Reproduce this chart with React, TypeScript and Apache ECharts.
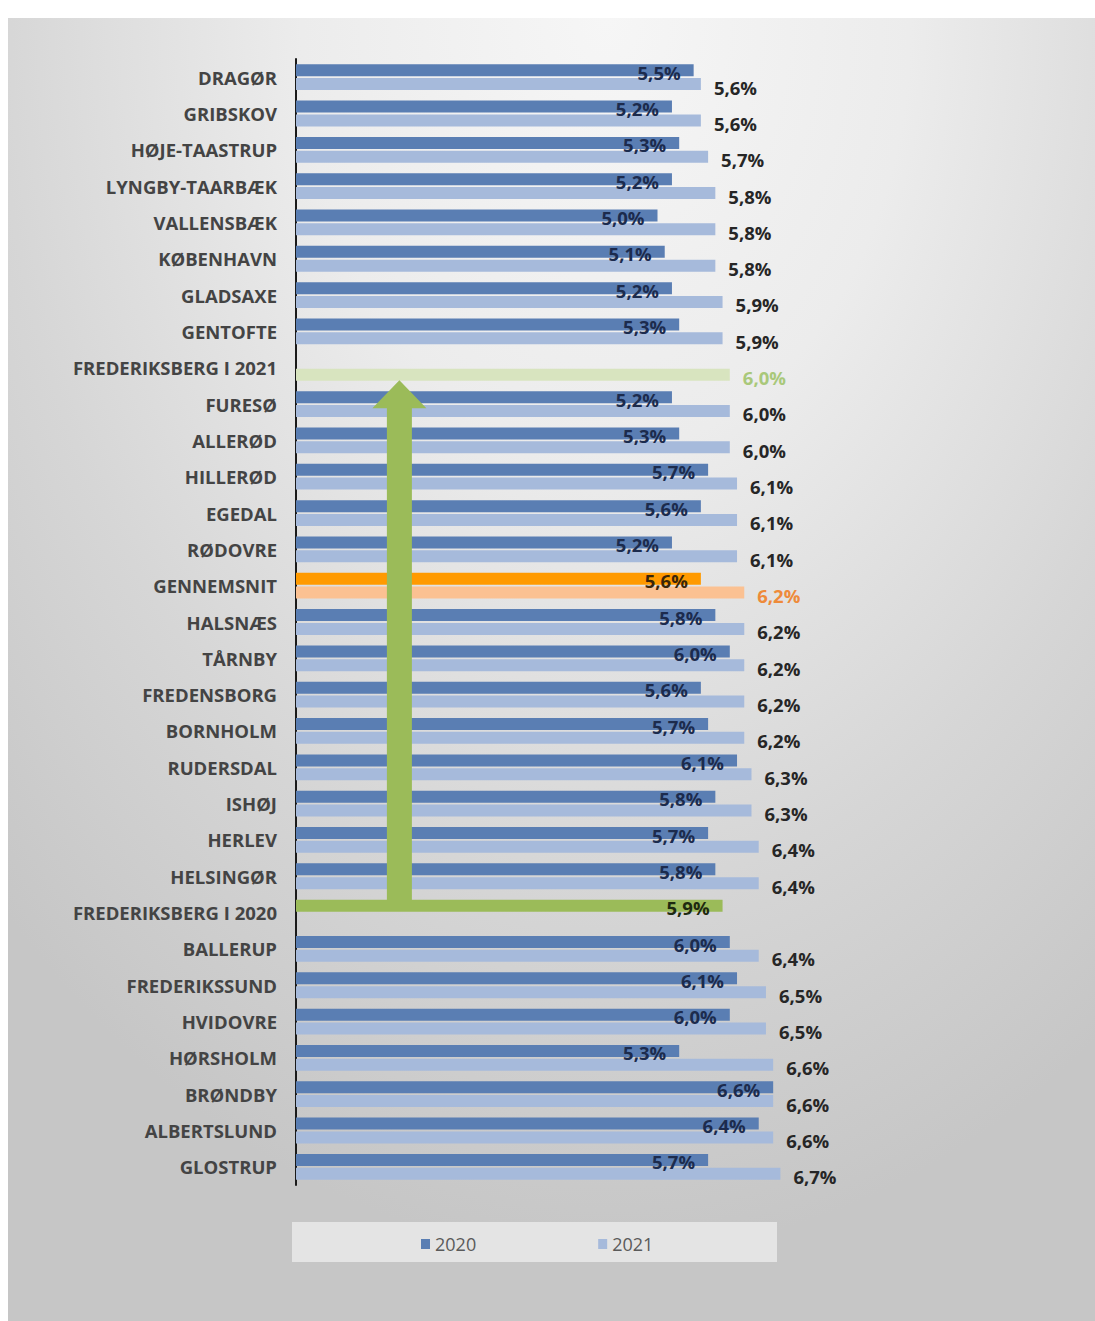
import React, { useEffect, useRef } from "react";
import * as echarts from "echarts";

const categories = [
  "DRAGØR", "GRIBSKOV", "HØJE-TAASTRUP", "LYNGBY-TAARBÆK", "VALLENSBÆK", "KØBENHAVN",
  "GLADSAXE", "GENTOFTE", "FREDERIKSBERG I 2021", "FURESØ", "ALLERØD", "HILLERØD",
  "EGEDAL", "RØDOVRE", "GENNEMSNIT", "HALSNÆS", "TÅRNBY", "FREDENSBORG", "BORNHOLM",
  "RUDERSDAL", "ISHØJ", "HERLEV", "HELSINGØR", "FREDERIKSBERG I 2020", "BALLERUP",
  "FREDERIKSSUND", "HVIDOVRE", "HØRSHOLM", "BRØNDBY", "ALBERTSLUND", "GLOSTRUP",
];

const values2020: (number | null)[] = [
  5.5, 5.2, 5.3, 5.2, 5.0, 5.1, 5.2, 5.3, null, 5.2, 5.3, 5.7, 5.6, 5.2, 5.6, 5.8,
  6.0, 5.6, 5.7, 6.1, 5.8, 5.7, 5.8, 5.9, 6.0, 6.1, 6.0, 5.3, 6.6, 6.4, 5.7,
];

const values2021: (number | null)[] = [
  5.6, 5.6, 5.7, 5.8, 5.8, 5.8, 5.9, 5.9, 6.0, 6.0, 6.0, 6.1, 6.1, 6.1, 6.2, 6.2,
  6.2, 6.2, 6.2, 6.3, 6.3, 6.4, 6.4, null, 6.4, 6.5, 6.5, 6.6, 6.6, 6.6, 6.7,
];

const seriesNames = ["2020", "2021"];
const arrowXValue = 1.43;

const FONT = "'Open Sans', 'Noto Sans', sans-serif";
const C2020 = "#5a7eb3";
const C2021 = "#a6badb";
const GREEN = "#9bbb59";
const GREEN_LIGHT = "#d8e4bf";
const ORANGE = "#ff9a00";
const ORANGE_LIGHT = "#fbc192";

const fmt = (p: any) => {
  const v = typeof p.value === "number" ? p.value : Number(p.value);
  if (p.value == null || isNaN(v)) return "";
  return v.toFixed(1).replace(".", ",") + "%";
};

export default function App() {
  const ref = useRef<HTMLDivElement>(null);

  useEffect(() => {
    const chart = echarts.init(ref.current!, null, { renderer: "svg" });

    const d2020 = values2020.map((v, i) => {
      const name = categories[i];
      if (name === "FREDERIKSBERG I 2020")
        return { value: v, itemStyle: { color: GREEN }, label: { color: "#1e2a10" } };
      if (name === "GENNEMSNIT")
        return { value: v, itemStyle: { color: ORANGE }, label: { color: "#3a2508" } };
      return v == null ? "-" : v;
    });
    const d2021 = values2021.map((v, i) => {
      const name = categories[i];
      if (name === "FREDERIKSBERG I 2021")
        return { value: v, itemStyle: { color: GREEN_LIGHT }, label: { color: "#a9c87a" } };
      if (name === "GENNEMSNIT")
        return { value: v, itemStyle: { color: ORANGE_LIGHT }, label: { color: "#ee8a3a" } };
      return v == null ? "-" : v;
    });

    const option: any = {
      animation: false,
      backgroundColor: "transparent",
      grid: { left: 296, top: 59, width: 578.4, height: 1126, containLabel: false },
      xAxis: {
        type: "value",
        min: 0,
        max: 8,
        show: false,
      },
      yAxis: {
        type: "category",
        inverse: true,
        data: categories,
        axisLine: { show: true, lineStyle: { color: "#1a1a1a", width: 2 } },
        axisTick: { show: false },
        axisLabel: {
          margin: 19,
          fontFamily: FONT,
          fontWeight: "bold",
          fontSize: 18.5,
          color: "#444444",
        },
      },
      legend: {
        data: seriesNames,
        left: 416,
        top: 1230,
        icon: "rect",
        itemWidth: 9,
        itemHeight: 10,
        itemGap: 122,
        itemTextGap: 6,
        textStyle: { fontFamily: FONT, fontSize: 18, color: "#5a5a5a" },
      },
      series: [
        {
          name: seriesNames[0],
          type: "bar",
          data: d2020,
          barWidth: 12,
          barGap: "15%",
          itemStyle: { color: C2020 },
          label: {
            show: true,
            position: "insideRight",
            distance: 13,
            offset: [0, 2],
            formatter: fmt,
            fontFamily: FONT,
            fontWeight: "bold",
            fontSize: 18.5,
            color: "#1c2b4d",
          },
        },
        {
          name: seriesNames[1],
          type: "bar",
          data: d2021,
          barWidth: 12,
          barGap: "15%",
          itemStyle: { color: C2021 },
          label: {
            show: true,
            position: "right",
            distance: 13,
            offset: [0, 3],
            formatter: fmt,
            fontFamily: FONT,
            fontWeight: "bold",
            fontSize: 18.5,
            color: "#262626",
          },
        },
      ],
    };

    chart.setOption(option);

    // green arrow from FREDERIKSBERG I 2020 up to FREDERIKSBERG I 2021
    const iTop = categories.indexOf("FREDERIKSBERG I 2021");
    const iBot = categories.indexOf("FREDERIKSBERG I 2020");
    const yTopC = chart.convertToPixel({ yAxisIndex: 0 }, iTop) as number;
    const yBotC = chart.convertToPixel({ yAxisIndex: 0 }, iBot) as number;
    const xc = chart.convertToPixel({ xAxisIndex: 0 }, arrowXValue) as number;
    const tip = yTopC + 12.5;
    const headBase = tip + 28;
    const bottom = yBotC - 12.5;
    const sw = 12.5;
    const hw = 27;

    chart.setOption({
      graphic: [
        {
          type: "rect",
          z: 0,
          shape: { x: 292, y: 1222, width: 485, height: 40 },
          style: { fill: "#e4e4e4" },
          silent: true,
        },
        {
          type: "polygon",
          z: 100,
          shape: {
            points: [
              [xc, tip],
              [xc + hw, headBase],
              [xc + sw, headBase],
              [xc + sw, bottom],
              [xc - sw, bottom],
              [xc - sw, headBase],
              [xc - hw, headBase],
            ],
          },
          style: { fill: GREEN },
          silent: true,
        },
      ],
    });

    return () => chart.dispose();
  }, []);

  return (
    <div
      style={{
        position: "absolute",
        left: 0,
        top: 0,
        width: 1095,
        height: 1321,
        background: "#ffffff",
        overflow: "hidden",
      }}
    >
      <div
        style={{
          position: "absolute",
          left: 8,
          top: 18,
          width: 1087,
          height: 1303,
          background:
            "radial-gradient(ellipse 80% 95% at 55% 0%, #f6f6f6 0%, #ececec 35%, #d6d6d6 70%, #c6c6c6 100%)",
        }}
      />
      <div
        ref={ref}
        style={{ position: "absolute", left: 0, top: 0, width: 1095, height: 1321 }}
      />
    </div>
  );
}
